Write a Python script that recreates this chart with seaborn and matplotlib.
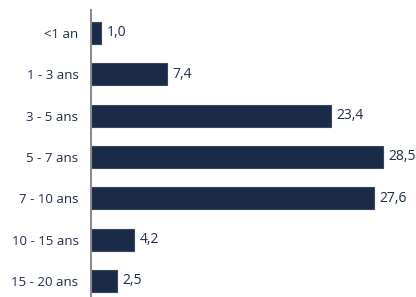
import matplotlib
matplotlib.use("Agg")
import matplotlib.pyplot as plt
import seaborn as sns
import pandas as pd

# données
categories = ["<1 an", "1 - 3 ans", "3 - 5 ans", "5 - 7 ans", "7 - 10 ans", "10 - 15 ans", "15 - 20 ans"]
valeurs = [1.0, 7.4, 23.4, 28.5, 27.6, 4.2, 2.5]

df = pd.DataFrame({"cat": categories, "val": valeurs})

sns.set_style("white")
plt.rcParams['font.family'] = ['Open Sans', 'DejaVu Sans']

fig = plt.figure(figsize=(4.16, 2.97), dpi=100)
ax = fig.add_axes([91 / 416, 0, 307.5 / 416, 287 / 297])

sns.barplot(data=df, x="val", y="cat", orient="h", color="#1B2A47",
            width=0.53, edgecolor="#3A4660", linewidth=0.8, ax=ax, saturation=1)

labels = [f"{v:.1f}".replace(".", ",") for v in valeurs]
ax.bar_label(ax.containers[0], labels=labels, padding=4, fontsize=10, color="#1F2D4A")

ax.set_xlim(0, 30)
ax.set_ylim(6.39, -0.556)
ax.set_xlabel("")
ax.set_ylabel("")
ax.set_xticks([])
ax.tick_params(axis="y", length=0, pad=9, labelsize=9.5, labelcolor="#1F2D4A")
for s in ["top", "right", "bottom"]:
    ax.spines[s].set_visible(False)
ax.spines["left"].set_color("#8C8C8C")
ax.spines["left"].set_linewidth(1.5)

fig.savefig("out.png", dpi=100)
